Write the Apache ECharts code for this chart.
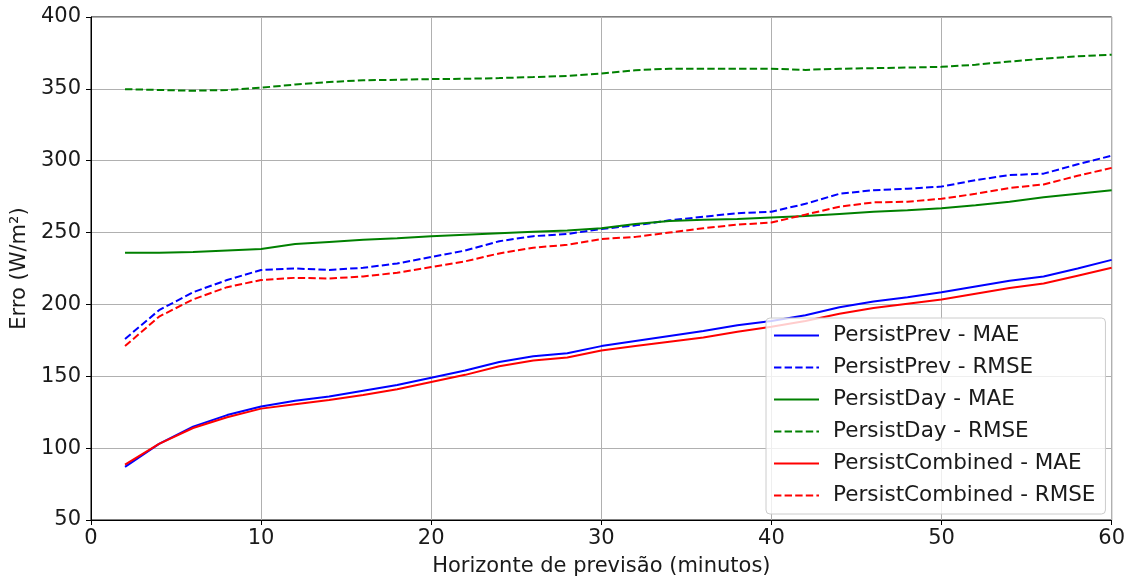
<!DOCTYPE html>
<html>
<head>
<meta charset="utf-8">
<script src="https://cdn.jsdelivr.net/npm/echarts@6/dist/echarts.min.js"></script>
<style>
  html, body { margin: 0; padding: 0; background: #fff; }
  #chart { width: 1128px; height: 582px; }
</style>
</head>
<body>
<div id="chart"></div>
<script>
// Forecast horizon in minutes
const horizons = [2, 4, 6, 8, 10, 12, 14, 16, 18, 20, 22, 24, 26, 28, 30,
                  32, 34, 36, 38, 40, 42, 44, 46, 48, 50, 52, 54, 56, 58, 60];

// Error curves (W/m²)
const persistPrevMAE = [87, 103, 115, 123, 129, 133, 136, 140, 144, 149, 154, 160, 164, 166, 171,
                        174.5, 178, 181.5, 185.5, 188.5, 192.5, 198, 202, 205, 208.5, 212.5, 216.5, 219.5, 225, 231];
const persistPrevRMSE = [176, 196, 208.5, 217, 224, 225, 224, 225.5, 228.5, 233, 237.5, 244, 247.5, 249, 252.5,
                         255, 258.5, 261, 263.5, 264.5, 270, 277, 279.5, 280.5, 282, 286.5, 290, 291, 297.5, 303.5];
const persistDayMAE = [236, 236, 236.5, 237.5, 238.5, 242, 243.5, 245, 246, 247.5, 248.5, 249.5, 250.5, 251.5, 253,
                       256, 258, 259, 259.5, 260.5, 261.5, 263, 264.5, 265.5, 267, 269, 271.5, 274.5, 277, 279.5];
const persistDayRMSE = [349.8, 349.2, 348.7, 349.2, 350.8, 353, 354.7, 356, 356.3, 356.8, 357, 357.5, 358.2, 359, 360.6,
                        363, 364, 364, 364, 364, 363.2, 364, 364.4, 364.8, 365.3, 366.8, 369, 371, 372.6, 373.8];
const persistCombinedMAE = [88.5, 103, 114, 121.5, 127.5, 130.5, 133.5, 137, 141, 146, 151, 157, 161, 163, 168,
                            171, 174, 177, 181, 184.5, 188.5, 193.5, 197.5, 200.5, 203.5, 207.5, 211.5, 214.5, 220, 225.5];
const persistCombinedRMSE = [171, 191.5, 203.5, 212, 217, 218.5, 218, 219.5, 222, 226, 230, 235.5, 239.5, 241.5, 245.5,
                             247, 250, 253, 255.5, 257, 262.5, 268, 271, 271.5, 273.5, 277, 281, 283.5, 289.5, 295];

const xTicks = [0, 10, 20, 30, 40, 50, 60];
const yTicks = [50, 100, 150, 200, 250, 300, 350, 400];

const FONT = 'DejaVu Sans';
const FS = 21;
const pair = (ys) => horizons.map((x, i) => [x, ys[i]]);

function line(name, ys, color, dashed) {
  return {
    name: name,
    type: 'line',
    data: pair(ys),
    showSymbol: false,
    symbol: 'none',
    animation: false,
    lineStyle: { color: color, width: 2, type: dashed ? [7.4, 3.2] : 'solid' },
    itemStyle: { color: color }
  };
}

const chart = echarts.init(document.getElementById('chart'), null, { renderer: 'canvas' });
chart.setOption({
  backgroundColor: '#ffffff',
  animation: false,
  textStyle: { fontFamily: FONT },
  grid: {
    left: 91, right: 14, top: 17, bottom: 57,
    show: true, borderColor: '#000', borderWidth: 1, backgroundColor: 'transparent'
  },
  xAxis: {
    type: 'value',
    min: xTicks[0], max: xTicks[xTicks.length - 1], interval: 10,
    name: 'Horizonte de previsão (minutos)',
    nameLocation: 'middle', nameGap: 36,
    nameTextStyle: { fontFamily: FONT, fontSize: FS, color: '#1a1a1a' },
    axisLine: { show: true, lineStyle: { color: '#000', width: 1 } },
    axisTick: { show: true, inside: false, length: 5, lineStyle: { color: '#000' } },
    axisLabel: { fontFamily: FONT, fontSize: FS, color: '#1a1a1a', margin: 8 },
    splitLine: { show: true, lineStyle: { color: '#b0b0b0', width: 1 } }
  },
  yAxis: {
    type: 'value',
    min: yTicks[0], max: yTicks[yTicks.length - 1], interval: 50,
    name: 'Erro (W/m²)',
    nameLocation: 'middle', nameGap: 55, nameRotate: 90,
    nameTextStyle: { fontFamily: FONT, fontSize: FS, color: '#1a1a1a' },
    axisLine: { show: true, lineStyle: { color: '#000', width: 1 } },
    axisTick: { show: true, inside: false, length: 5, lineStyle: { color: '#000' } },
    axisLabel: { fontFamily: FONT, fontSize: FS, color: '#1a1a1a', margin: 10 },
    splitLine: { show: true, lineStyle: { color: '#b0b0b0', width: 1 } }
  },
  legend: {
    orient: 'vertical',
    left: 766, top: 318,
    padding: [5, 10, 6, 7],
    itemWidth: 45, itemHeight: 14, itemGap: 7,
    backgroundColor: 'rgba(255,255,255,0.8)',
    borderColor: '#cccccc', borderWidth: 1, borderRadius: 4,
    itemStyle: { opacity: 0 },
    textStyle: { fontFamily: FONT, fontSize: 21.5, color: '#1a1a1a', lineHeight: 25, padding: [0, 0, 0, 9] },
    data: ['PersistPrev - MAE', 'PersistPrev - RMSE', 'PersistDay - MAE',
           'PersistDay - RMSE', 'PersistCombined - MAE', 'PersistCombined - RMSE']
  },
  series: [
    line('PersistPrev - MAE', persistPrevMAE, '#0000ff', false),
    line('PersistPrev - RMSE', persistPrevRMSE, '#0000ff', true),
    line('PersistDay - MAE', persistDayMAE, '#008000', false),
    line('PersistDay - RMSE', persistDayRMSE, '#008000', true),
    line('PersistCombined - MAE', persistCombinedMAE, '#ff0000', false),
    line('PersistCombined - RMSE', persistCombinedRMSE, '#ff0000', true)
  ]
});
</script>
</body>
</html>
